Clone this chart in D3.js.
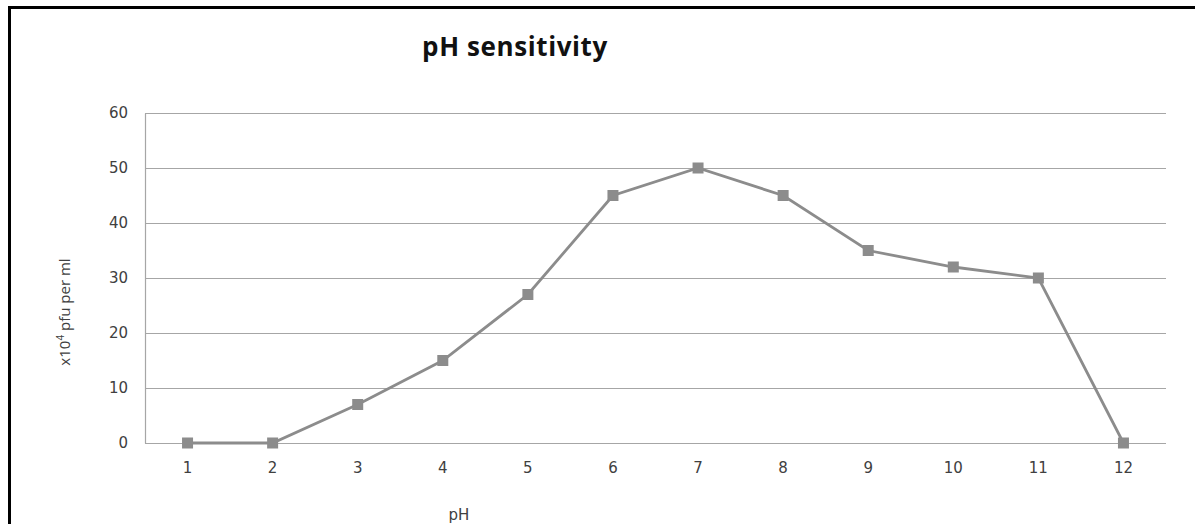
<!DOCTYPE html>
<html>
<head>
<meta charset="utf-8">
<script src="https://cdn.jsdelivr.net/npm/d3@7"></script>
<style>
  body { margin: 0; background: #fff; }
  #chart { width: 1195px; height: 524px; }
</style>
</head>
<body>
<div id="chart"></div>
<script>
const phLevels = ["1", "2", "3", "4", "5", "6", "7", "8", "9", "10", "11", "12"];
const pfuCounts = [0, 0, 7, 15, 27, 45, 50, 45, 35, 32, 30, 0];
const yTicks = [0, 10, 20, 30, 40, 50, 60];

const margin = { top: 113, right: 29, bottom: 81, left: 145 };
const totalWidth = 1195, totalHeight = 524;
const width = totalWidth - margin.left - margin.right;
const height = totalHeight - margin.top - margin.bottom;

const labelFont = "DejaVu Sans, Verdana, sans-serif";

const root = d3.select("#chart").append("svg")
    .attr("width", totalWidth)
    .attr("height", totalHeight);

// outer frame (only top and left edges fall inside the view)
root.append("rect")
    .attr("x", 9.5)
    .attr("y", 7.5)
    .attr("width", 1300)
    .attr("height", 600)
    .attr("fill", "none")
    .attr("stroke", "#000")
    .attr("stroke-width", 3);

const svg = root.append("g")
    .attr("transform", `translate(${margin.left},${margin.top})`);

const x = d3.scaleBand()
    .domain(phLevels)
    .range([0, width]);

const y = d3.scaleLinear()
    .domain([0, 60])
    .range([height, 0]);

//horizontal grid lines
svg.append("g")
    .selectAll("line")
    .data(yTicks)
    .join("line")
        .attr("x1", 0)
        .attr("x2", width)
        .attr("y1", d => Math.round(y(d)) + 0.5)
        .attr("y2", d => Math.round(y(d)) + 0.5)
        .attr("stroke", "#a6a6a6")
        .attr("stroke-width", 1.2);

//y axis
const yAxis = svg.append("g")
    .call(d3.axisLeft(y).tickValues(yTicks).tickSize(0).tickPadding(17));
yAxis.select(".domain").attr("stroke", "#a6a6a6").attr("stroke-width", 1.2);
yAxis.selectAll("text")
    .attr("font-family", labelFont)
    .attr("font-size", 15)
    .attr("fill", "#404040");

//x axis
const xAxis = svg.append("g")
    .attr("transform", `translate(0, ${height})`)
    .call(d3.axisBottom(x).tickSize(0).tickPadding(19));
xAxis.select(".domain").remove();
xAxis.selectAll("text")
    .attr("font-family", labelFont)
    .attr("font-size", 15)
    .attr("fill", "#404040");

//title
root.append("text")
    .attr("x", 515)
    .attr("y", 56)
    .attr("text-anchor", "middle")
    .attr("font-family", "Open Sans, Liberation Sans, sans-serif")
    .attr("font-weight", "bold")
    .attr("font-size", 26)
    .attr("letter-spacing", 0.6)
    .attr("fill", "#111")
    .text("pH sensitivity");

//x axis label
root.append("text")
    .attr("x", 459)
    .attr("y", 520)
    .attr("text-anchor", "middle")
    .attr("font-family", labelFont)
    .attr("font-size", 15)
    .attr("fill", "#404040")
    .text("pH");

//y axis label
const yLabel = root.append("text")
    .attr("transform", "translate(70, 312) rotate(-90)")
    .attr("text-anchor", "middle")
    .attr("font-family", "Open Sans, sans-serif")
    .attr("font-size", 15)
    .attr("fill", "#404040");
yLabel.append("tspan").text("x10");
yLabel.append("tspan").attr("dy", -6).attr("font-size", 10).text("4");
yLabel.append("tspan").attr("dy", 6).text(" pfu per ml");

const points = phLevels.map((p, i) => ({ ph: p, value: pfuCounts[i] }));

const line = d3.line()
    .x(d => x(d.ph) + x.bandwidth() / 2)
    .y(d => y(d.value));

svg.append("path")
    .datum(points)
    .attr("fill", "none")
    .attr("stroke", "#8c8c8c")
    .attr("stroke-width", 2.8)
    .attr("d", line);

svg.append("g")
    .selectAll("rect")
    .data(points)
    .join("rect")
        .attr("x", d => x(d.ph) + x.bandwidth() / 2 - 5.5)
        .attr("y", d => y(d.value) - 5.5)
        .attr("width", 11)
        .attr("height", 11)
        .attr("fill", "#8c8c8c");
</script>
</body>
</html>
